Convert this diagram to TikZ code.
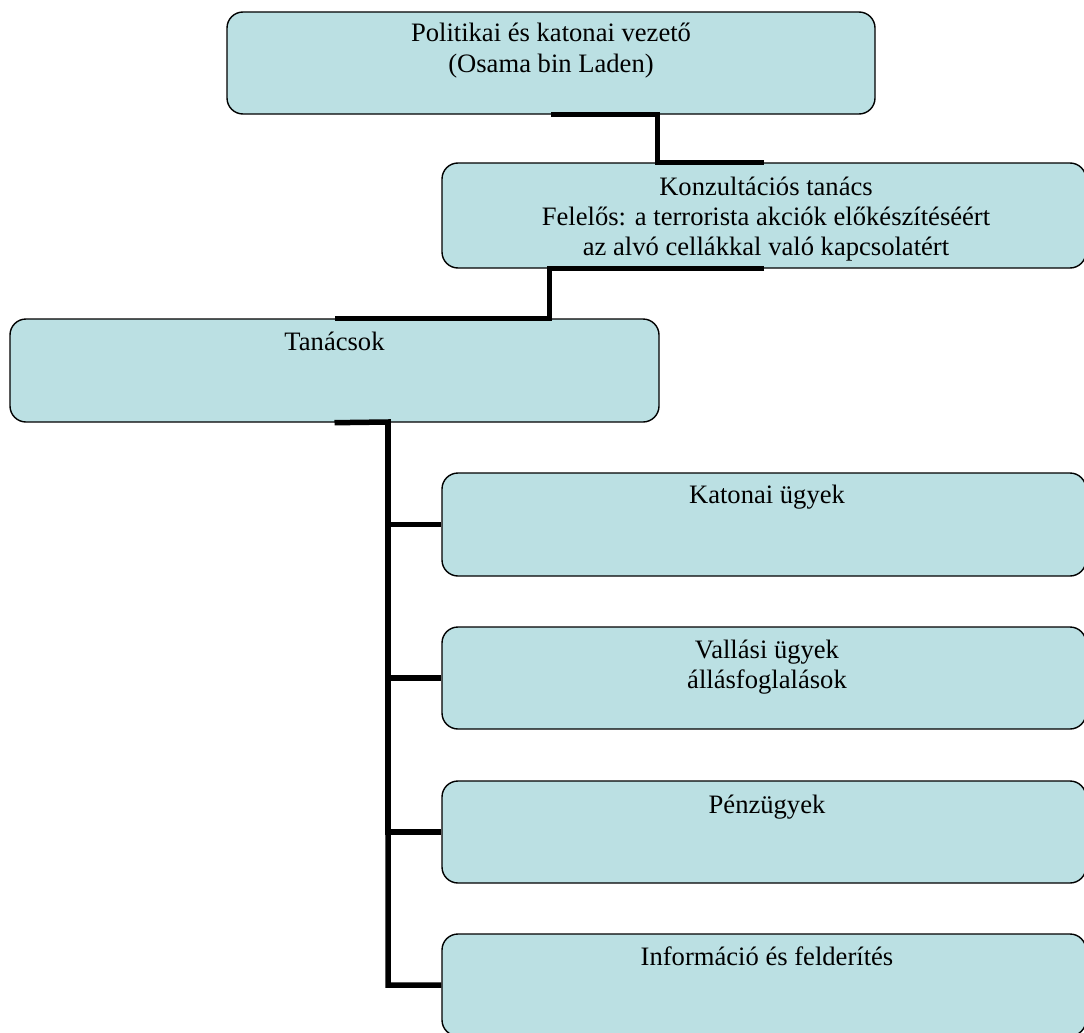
\documentclass[tikz,border=0pt]{standalone}
\usepackage{fontspec}
\setmainfont{Liberation Serif}
\usetikzlibrary{calc}
\definecolor{boxfill}{RGB}{187,224,227}
\begin{document}
\begin{tikzpicture}[x=1pt,y=-1pt,
  box/.style={draw=black, line width=1.4pt, fill=boxfill, rounded corners=16pt,
              rectangle, inner sep=0pt, minimum height=102pt},
  wide/.style={minimum width=644pt},
  lbl/.style={inner sep=0pt, anchor=base, font=\fontsize{26.6}{30}\selectfont},
  conn/.style={draw=black, line width=5.5pt, line join=miter}]
\useasboundingbox (0,0) rectangle (1084,1033);
\clip (0,0) rectangle (1084,1033);
% boxes
\node[box, minimum width=648pt] (lead) at (551,63) {};
\node[box, wide, minimum height=105pt] (konz) at (764,215.5) {};
\node[box, minimum width=649pt, minimum height=103pt] (tan) at (334.5,370.5) {};
\node[box, wide, minimum height=103pt] (kat) at (764,524.5) {};
\node[box, wide] (vall) at (764,678) {};
\node[box, wide] (penz) at (764,832) {};
\node[box, wide] (info) at (764,985) {};
% connectors
\coordinate (m1) at ($(lead.south)!0.5!(konz.north)$);
\coordinate (m2) at ($(konz.south)!0.5!(tan.north)$);
\coordinate (trunk) at (388,422);
\draw[conn] (lead.south) -| (m1) |- (konz.north);
\draw[conn] (konz.south) -| (m2) |- (tan.north);
\draw[conn] (tan.south) -- (trunk) |- (info.west);
\draw[conn] (trunk) |- (kat.west);
\draw[conn] (trunk) |- (vall.west);
\draw[conn] (trunk) |- (penz.west);
% labels
\node[lbl] (leadt) at (551,42) {\begin{tabular}[t]{@{}c@{}}Politikai és katonai vezető\\(Osama bin Laden)\end{tabular}};
\node[lbl] (konzt) at (766,195) {\begin{tabular}[t]{@{}c@{}}Konzultációs tanács\\Felelős: a terrorista akciók előkészítéséért\\az alvó cellákkal való kapcsolatért\end{tabular}};
\node[lbl] (tant) at (334.5,350) {Tanácsok};
\node[lbl] (katt) at (767,503) {Katonai ügyek};
\node[lbl] (vallt) at (767,658) {\begin{tabular}[t]{@{}c@{}}Vallási ügyek\\állásfoglalások\end{tabular}};
\node[lbl] (penzt) at (767,813) {Pénzügyek};
\node[lbl] (infot) at (767,965) {Információ és felderítés};
\end{tikzpicture}
\end{document}
